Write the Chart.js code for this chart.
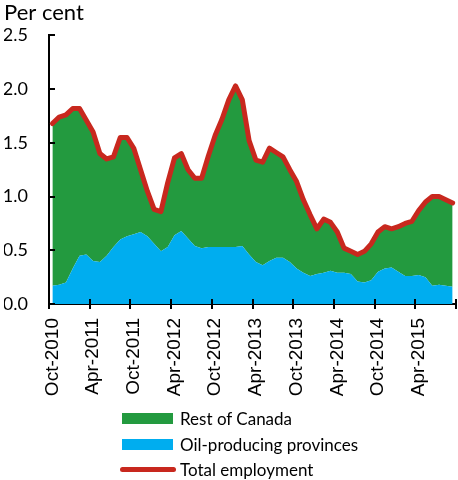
<!DOCTYPE html>
<html>
<head>
<meta charset="utf-8">
<script src="https://cdn.jsdelivr.net/npm/chart.js@4.4.0/dist/chart.umd.min.js"></script>
<style>
  html, body { margin: 0; padding: 0; background: #fff; }
  #wrap { position: relative; width: 458px; height: 480px; }
  #legend { position: absolute; left: 120px; top: 406px; font-family: Lato, sans-serif; font-size: 17px; color: #000; }
  .row { position: relative; height: 25.5px; line-height: 25.5px; padding-left: 60px; white-space: nowrap; }
  .box { position: absolute; left: 2px; top: 7px; width: 51px; height: 11px; }
  .ln { position: absolute; left: 0; top: 10px; width: 56px; height: 5px; border-radius: 3px; }
</style>
</head>
<body>
<div id="wrap">
  <canvas id="chart" width="458" height="480"></canvas>
  <div id="legend">
    <div class="row"><span class="box" style="background:#239a3f"></span>Rest of Canada</div>
    <div class="row"><span class="box" style="background:#00adef"></span>Oil-producing provinces</div>
    <div class="row"><span class="ln" style="background:#c8281e"></span>Total employment</div>
  </div>
</div>
<script>
// Monthly, Oct-2010 .. Sep-2015
const monthNames = ['Jan', 'Feb', 'Mar', 'Apr', 'May', 'Jun', 'Jul', 'Aug', 'Sep', 'Oct', 'Nov', 'Dec'];
const months = [];
for (let k = 0; k < 60; k++) {
    const m = (9 + k) % 12;
    const yr = 2010 + Math.floor((9 + k) / 12);
    months.push(monthNames[m] + '-' + yr);
}

const oilProvinces = [0.17, 0.18, 0.20, 0.33, 0.45, 0.46, 0.40, 0.39, 0.45, 0.53,
    0.60, 0.63, 0.65, 0.67, 0.63, 0.56, 0.49, 0.53, 0.64, 0.68,
    0.61, 0.54, 0.52, 0.53, 0.53, 0.53, 0.53, 0.53, 0.54, 0.46,
    0.39, 0.36, 0.40, 0.43, 0.43, 0.39, 0.33, 0.29, 0.26, 0.28,
    0.29, 0.31, 0.29, 0.29, 0.28, 0.21, 0.20, 0.22, 0.30, 0.33,
    0.34, 0.30, 0.26, 0.26, 0.27, 0.25, 0.17, 0.18, 0.17, 0.16];

const restOfCanada = [1.51, 1.56, 1.56, 1.49, 1.37, 1.25, 1.20, 1.01, 0.90, 0.84,
    0.95, 0.92, 0.80, 0.58, 0.42, 0.32, 0.37, 0.60, 0.72, 0.72,
    0.64, 0.63, 0.65, 0.85, 1.04, 1.19, 1.37, 1.50, 1.36, 1.06,
    0.95, 0.96, 1.05, 0.98, 0.94, 0.86, 0.81, 0.68, 0.57, 0.42,
    0.50, 0.45, 0.38, 0.23, 0.21, 0.25, 0.29, 0.34, 0.37, 0.39,
    0.36, 0.42, 0.49, 0.51, 0.60, 0.70, 0.83, 0.82, 0.80, 0.78];

const totalEmployment = [1.68, 1.74, 1.76, 1.82, 1.82, 1.71, 1.60, 1.40, 1.35, 1.37,
    1.55, 1.55, 1.45, 1.25, 1.05, 0.88, 0.86, 1.13, 1.36, 1.40,
    1.25, 1.17, 1.17, 1.38, 1.57, 1.72, 1.90, 2.03, 1.90, 1.52,
    1.34, 1.32, 1.45, 1.41, 1.37, 1.25, 1.14, 0.97, 0.83, 0.70,
    0.79, 0.76, 0.67, 0.52, 0.49, 0.46, 0.49, 0.56, 0.67, 0.72,
    0.70, 0.72, 0.75, 0.77, 0.87, 0.95, 1.00, 1.00, 0.97, 0.94];

const yTicks = [0, 0.5, 1.0, 1.5, 2.0, 2.5];

// tick marks: x ticks cross the axis, y ticks point inward
const axisTicks = {
    id: 'axisTicks',
    afterDatasetsDraw(chart) {
        const { ctx, scales: { x, y }, chartArea } = chart;
        ctx.save();
        ctx.strokeStyle = '#000';
        ctx.lineWidth = 2;
        ctx.beginPath();
        for (let i = 0; i <= months.length; i += 6) {
            const px = Math.round(x.getPixelForValue(i - 0.5));
            ctx.moveTo(px, chartArea.bottom - 5);
            ctx.lineTo(px, chartArea.bottom + 5);
        }
        yTicks.forEach(v => {
            const py = Math.round(y.getPixelForValue(v));
            ctx.moveTo(chartArea.left, py);
            ctx.lineTo(chartArea.left + 6, py);
        });
        ctx.stroke();
        ctx.restore();
    }
};

new Chart(document.getElementById('chart'), {
    type: 'line',
    data: {
        labels: months,
        datasets: [
            {
                label: 'Total employment',
                data: totalEmployment,
                stack: 'line',
                borderColor: '#c8281e',
                borderWidth: 5,
                borderCapStyle: 'round',
                borderJoinStyle: 'round',
                pointRadius: 0,
                fill: false
            },
            {
                label: 'Oil-producing provinces',
                data: oilProvinces,
                stack: 'area',
                backgroundColor: '#00adef',
                borderWidth: 0,
                pointRadius: 0,
                fill: 'origin'
            },
            {
                label: 'Rest of Canada',
                data: restOfCanada,
                stack: 'area',
                backgroundColor: '#239a3f',
                borderWidth: 0,
                pointRadius: 0,
                fill: '-1'
            }
        ]
    },
    options: {
        responsive: false,
        animation: false,
        elements: { line: { tension: 0 } },
        layout: { padding: { left: 4, right: 2, top: 0, bottom: 80 } },
        scales: {
            x: {
                offset: true,
                grid: { display: false, drawTicks: false },
                border: { color: '#000', width: 2 },
                ticks: {
                    autoSkip: false,
                    minRotation: 90,
                    maxRotation: 90,
                    padding: 14,
                    color: '#000',
                    font: { family: 'Liberation Sans', size: 19 },
                    callback: function(value, index) {
                        return index % 6 === 0 ? months[index] : null;
                    }
                },
                afterFit: scale => { scale.height = 96; }
            },
            y: {
                stacked: true,
                min: 0,
                max: 2.5,
                grid: { display: false, drawTicks: false },
                border: { color: '#000', width: 2 },
                afterBuildTicks: scale => { scale.ticks = yTicks.map(v => ({ value: v })); },
                ticks: {
                    padding: 21,
                    color: '#000',
                    font: { family: 'Lato', size: 18 },
                    callback: v => v.toFixed(1)
                },
                afterFit: scale => { scale.width = 45; }
            }
        },
        plugins: {
            legend: { display: false },
            tooltip: { enabled: false },
            title: {
                display: true,
                text: 'Per cent',
                align: 'start',
                color: '#000',
                font: { family: 'Lato', size: 22, weight: 'normal' },
                padding: { top: 0, bottom: 9 }
            }
        }
    },
    plugins: [axisTicks]
});
</script>
</body>
</html>
